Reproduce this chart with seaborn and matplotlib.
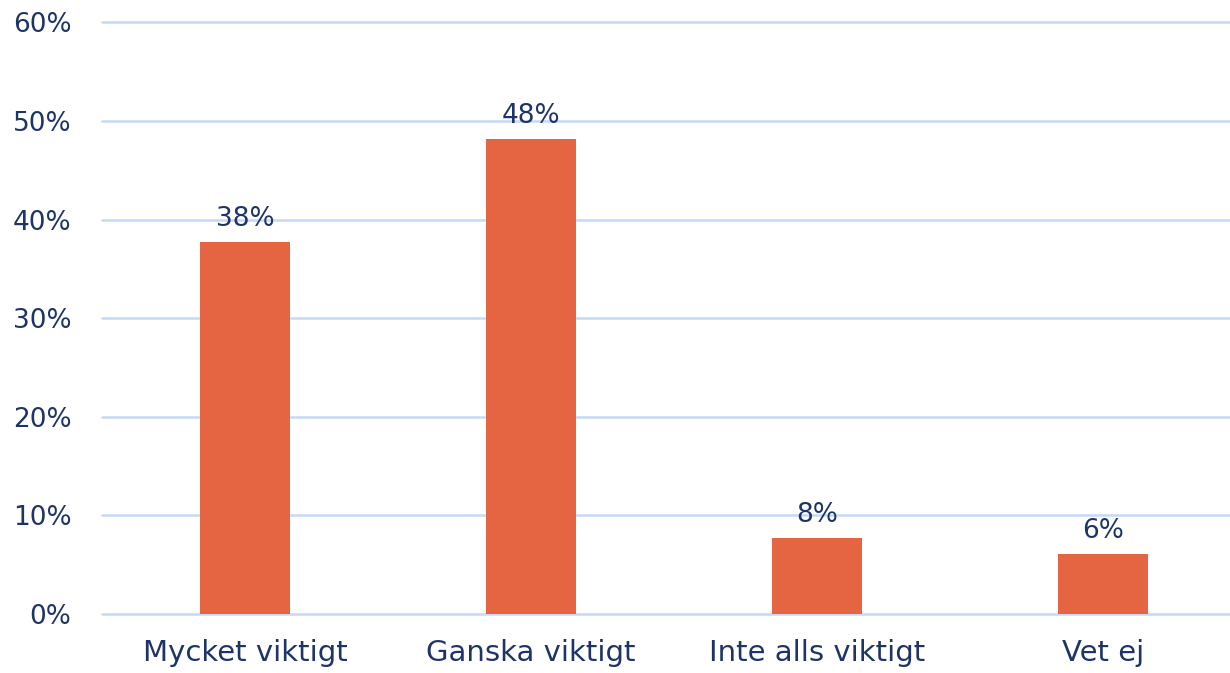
import pandas as pd
import matplotlib.pyplot as plt
import seaborn as sns
from matplotlib.ticker import FuncFormatter

categories = ["Mycket viktigt", "Ganska viktigt", "Inte alls viktigt", "Vet ej"]
shares = [37.7, 48.2, 7.7, 6.1]
value_labels = ["38%", "48%", "8%", "6%"]

BAR_COLOR = "#e56442"
TEXT_COLOR = "#1f3466"
GRID_COLOR = "#c5d9f5"

df = pd.DataFrame({"category": categories, "share": shares})

sns.set_theme(style="white")
plt.rcParams['font.family'] = ['DejaVu Sans']

fig = plt.figure(figsize=(12.3, 6.73), dpi=100)
ax = fig.add_axes([0.083, 0.0877, 0.917, 0.879])

sns.barplot(data=df, x="category", y="share", color=BAR_COLOR, width=0.315,
            saturation=1, linewidth=0, ax=ax, zorder=3)

for i, (v, lbl) in enumerate(zip(shares, value_labels)):
    ax.text(i, v + 1.0, lbl, ha="center", va="bottom", fontsize=19, color=TEXT_COLOR)

ax.set_ylim(0, 60)
ax.set_xlim(-0.5, 3.444)
ax.set_yticks(range(0, 61, 10))
ax.yaxis.set_major_formatter(FuncFormatter(lambda v, p: f"{v:.0f}%"))
ax.grid(axis="y", color=GRID_COLOR, linewidth=1.8, zorder=0)
for gl in ax.get_ygridlines():
    gl.set_clip_on(False)
ax.set_xlabel("")
ax.set_ylabel("")
for s in ax.spines.values():
    s.set_visible(False)
ax.tick_params(axis="both", length=0, labelcolor=TEXT_COLOR)
ax.tick_params(axis="x", labelsize=21, pad=18)
ax.tick_params(axis="y", labelsize=19, pad=22)

fig.savefig("out.png", dpi=100)
